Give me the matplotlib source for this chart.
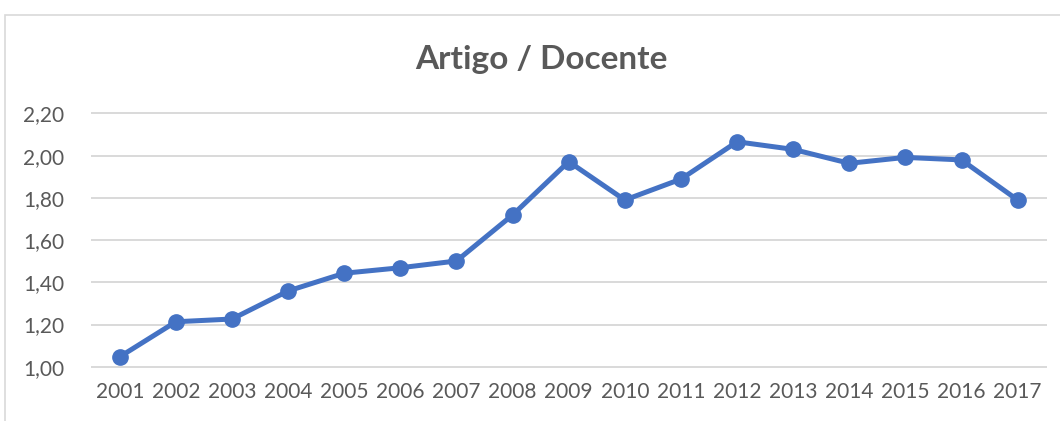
import matplotlib
matplotlib.use("Agg")
import matplotlib.pyplot as plt
from matplotlib.patches import Rectangle

years = ["2001", "2002", "2003", "2004", "2005", "2006", "2007", "2008", "2009",
         "2010", "2011", "2012", "2013", "2014", "2015", "2016", "2017"]
values = [1.047, 1.213, 1.226, 1.359, 1.443, 1.469, 1.501, 1.719, 1.972,
          1.790, 1.889, 2.066, 2.030, 1.964, 1.992, 1.980, 1.790]
yticks = [1.00, 1.20, 1.40, 1.60, 1.80, 2.00, 2.20]
ytick_labels = ["1,00", "1,20", "1,40", "1,60", "1,80", "2,00", "2,20"]
title = "Artigo / Docente"

plt.rcParams['font.family'] = ['Lato', 'DejaVu Sans']
W, H = 1060, 421
fig = plt.figure(figsize=(W / 100, H / 100), dpi=100)
fig.patch.set_facecolor("white")

# outer chart border (cropped at right/bottom)
fig.add_artist(Rectangle((5 / W, -0.1), 1.2, 1 - 15 / H + 0.1, transform=fig.transFigure,
                         fill=False, edgecolor="#D9D9D9", linewidth=1.2))

ax = fig.add_axes([91.7 / W, 1 - 366.7 / H, (1045.7 - 91.7) / W, (366.7 - 113.5) / H])
x = list(range(len(years)))
ax.plot(x, values, color="#4472C4", linewidth=3.6, marker="o", markersize=11,
        markerfacecolor="#4472C4", markeredgecolor="#4472C4", zorder=3)

ax.set_xlim(-0.5, len(years) - 0.5)
ax.set_ylim(1.0, 2.2)
ax.set_yticks(yticks)
ax.set_yticklabels(ytick_labels)
ax.set_xticks(x)
ax.set_xticklabels(years)
ax.grid(axis="y", color="#D9D9D9", linewidth=1.4)
for gl in ax.get_ygridlines():
    gl.set_clip_on(False)
ax.set_axisbelow(True)
for s in ax.spines.values():
    s.set_visible(False)
ax.tick_params(axis="both", length=0, colors="#595959", labelsize=15)
ax.tick_params(axis="y", pad=20)
ax.tick_params(axis="x", pad=11)

fig.text(541 / W, 1 - 60 / H, title, ha="center", va="center", fontsize=24,
         fontweight="bold", color="#595959")

fig.savefig("out.png", dpi=100, facecolor="white")
